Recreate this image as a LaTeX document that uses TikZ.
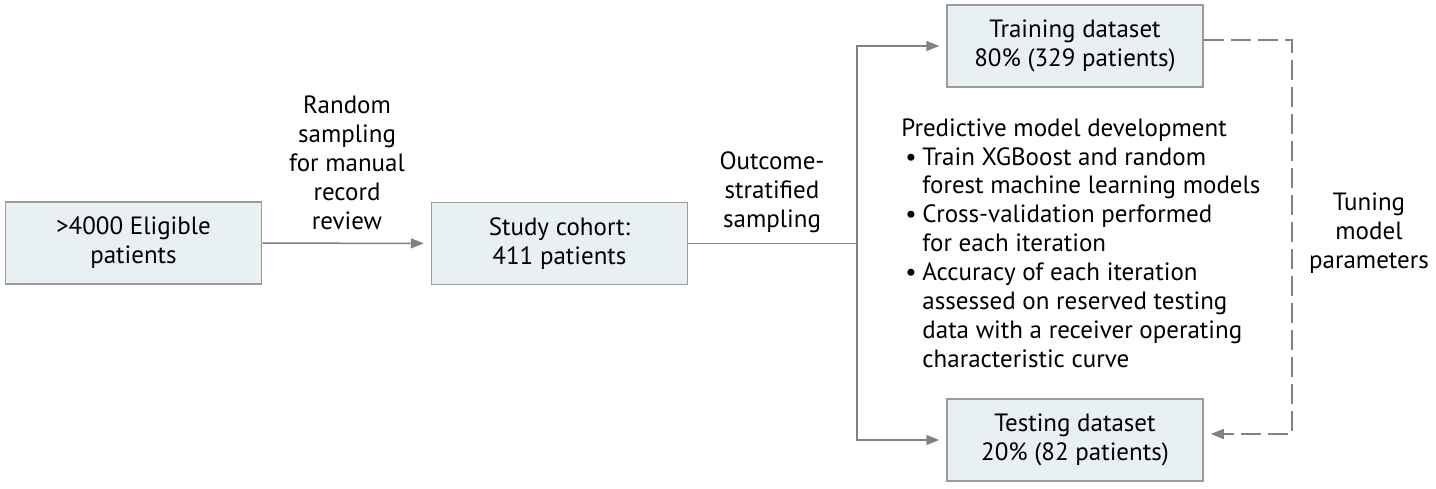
\documentclass[tikz,border=0pt]{standalone}
\usepackage{fontspec}
\setmainfont{PT Sans}
\usepackage{xcolor}
\usetikzlibrary{arrows.meta,positioning}
\definecolor{boxfill}{RGB}{233,240,244}
\definecolor{boxline}{RGB}{155,155,155}
\definecolor{arrline}{RGB}{130,130,130}
\newcommand{\bul}{\hspace*{2pt}\makebox[8.5pt][l]{\textbullet}}
\newcommand{\ind}{\hspace*{10.5pt}}

\begin{document}
\begin{tikzpicture}[x=0.5pt,y=-0.5pt,>={Triangle[length=6.5pt,width=5pt]},
  every node/.style={font=\fontsize{12.5}{14.45}\selectfont},
  stepbox/.style={draw=boxline,fill=boxfill,line width=0.75pt,minimum width=128pt,minimum height=41pt,align=center,inner sep=0pt},
  flow/.style={draw=arrline,line width=0.75pt,->,shorten >=3.5pt},
  tune/.style={flow,dash pattern=on 10pt off 3.5pt},
  lbl/.style={align=center,inner sep=0pt}]
\useasboundingbox (0,0) rectangle (1436,488);
\node[stepbox](elig) at (133.5,243){>4000 Eligible\\patients};
\node[stepbox](cohort) at (559.5,243.5){Study cohort:\\411 patients};
\node[stepbox](train) at (1075,46){Training dataset\\80\% (329 patients)};
\node[stepbox](test) at (1075,440){Testing dataset\\20\% (82 patients)};
\coordinate (split) at (857,243.5);
\draw[flow](elig)--(cohort);
\draw[flow](cohort)--(split)|-(train);
\draw[flow](split)|-(test);
\coordinate (loop) at (1292,40);
\draw[tune]([yshift=3pt]train.east)--(loop)|-([yshift=3pt]test.east);
\node[lbl](rand) at (347,163){Random\\sampling\\for manual\\record\\review};
\node[lbl](strat) at (772,192){Outcome-\\stratified\\sampling};
\node[lbl](tuning) at (1369,233){Tuning\\model\\parameters};
\node[anchor=north west,align=left,inner sep=0pt](dev) at (901,118){Predictive model development\\
\bul Train XGBoost and random\\
\ind forest machine learning models\\
\bul Cross-validation performed\\
\ind for each iteration\\
\bul Accuracy of each iteration\\
\ind assessed on reserved testing\\
\ind data with a receiver operating\\
\ind characteristic curve};
\end{tikzpicture}
\end{document}
